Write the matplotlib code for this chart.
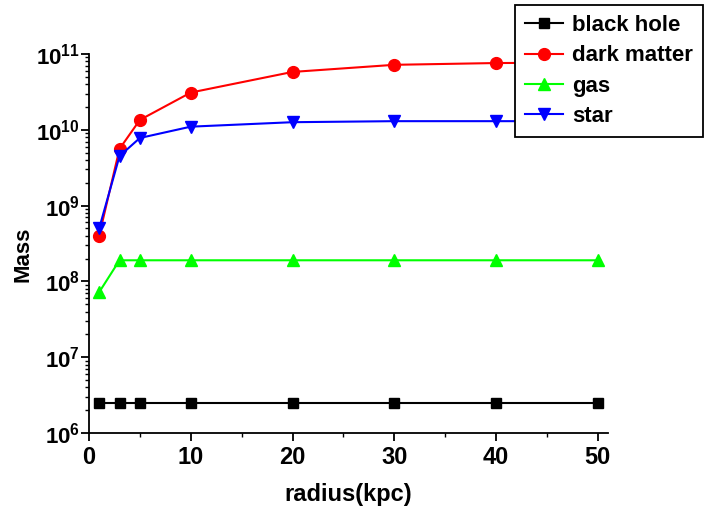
import math
import matplotlib
matplotlib.use("Agg")
import matplotlib.pyplot as plt
from matplotlib.ticker import LogLocator, FuncFormatter, MultipleLocator, NullFormatter

plt.rcParams['font.family'] = ['Liberation Sans', 'DejaVu Sans']
plt.rcParams['font.weight'] = 'bold'
plt.rcParams['mathtext.fontset'] = 'custom'
plt.rcParams['mathtext.rm'] = 'Liberation Sans:bold'
plt.rcParams['mathtext.bf'] = 'Liberation Sans:bold'
plt.rcParams['mathtext.it'] = 'Liberation Sans:bold'

radius = [1, 3, 5, 10, 20, 30, 40, 50]
black_hole = [2.5e6, 2.5e6, 2.5e6, 2.5e6, 2.5e6, 2.5e6, 2.5e6, 2.5e6]
dark_matter = [4.0e8, 5.6e9, 1.35e10, 3.1e10, 5.8e10, 7.2e10, 7.6e10, 7.7e10]
gas = [7.2e7, 1.9e8, 1.9e8, 1.9e8, 1.9e8, 1.9e8, 1.9e8, 1.9e8]
star = [5.0e8, 4.5e9, 7.8e9, 1.1e10, 1.26e10, 1.3e10, 1.3e10, 1.3e10]

fig = plt.figure(figsize=(7.09, 5.08), dpi=100)
ax = fig.add_axes([0.1255, 0.1476, 0.732, 0.7461])

ax.plot(radius, black_hole, color='black', marker='s', ms=6.5, lw=1.5, label='black hole')
ax.plot(radius, dark_matter, color='#ff0000', marker='o', ms=8.5, lw=1.5, label='dark matter')
ax.plot(radius, gas, color='#00ff00', marker='^', ms=9, lw=1.5, label='gas')
ax.plot(radius, star, color='#0000ff', marker='v', ms=9, lw=1.5, label='star')

ax.set_yscale('log')
ax.set_xlim(0, 51)
ax.set_ylim(1e6, 1e11)

for s in ['top', 'right']:
    ax.spines[s].set_visible(False)
for s in ['left', 'bottom']:
    ax.spines[s].set_linewidth(1.3)

ax.xaxis.set_major_locator(MultipleLocator(10))
ax.xaxis.set_minor_locator(MultipleLocator(5))
ax.yaxis.set_major_locator(LogLocator(base=10, numticks=10))
ax.yaxis.set_minor_locator(LogLocator(base=10, subs=range(2, 10), numticks=20))
ax.yaxis.set_minor_formatter(NullFormatter())

def yfmt(v, pos):
    e = int(round(math.log10(v)))
    return r'$\mathbf{10^{%d}}$' % e
ax.yaxis.set_major_formatter(FuncFormatter(yfmt))

ax.tick_params(axis='both', which='major', direction='out', length=5.5, width=1.3)
ax.tick_params(axis='both', which='minor', direction='out', length=3, width=1.0)
ax.tick_params(axis='x', pad=4, labelsize=17)
ax.tick_params(axis='y', pad=1, labelsize=16)

for lab in ax.get_xticklabels():
    lab.set_fontweight('bold')

ax.set_xlabel('radius(kpc)', fontsize=17, fontweight='bold')
ax.set_ylabel('Mass', fontsize=16, fontweight='bold')
ax.xaxis.set_label_coords(0.5, -0.161)
ax.yaxis.set_label_coords(-0.127, 0.472)
ax.xaxis.label.set_va('center')
ax.yaxis.label.set_va('center')

leg = fig.legend(loc='upper right', bbox_to_anchor=(0.9915, 0.990),
                 prop={'size': 16, 'weight': 'bold'}, frameon=True, fancybox=False,
                 edgecolor='black', framealpha=1, handlelength=1.7, handletextpad=0.4,
                 labelspacing=0.42, borderpad=0.45, borderaxespad=0)
leg.get_frame().set_linewidth(1.3)

fig.savefig('out.png', dpi=100)
